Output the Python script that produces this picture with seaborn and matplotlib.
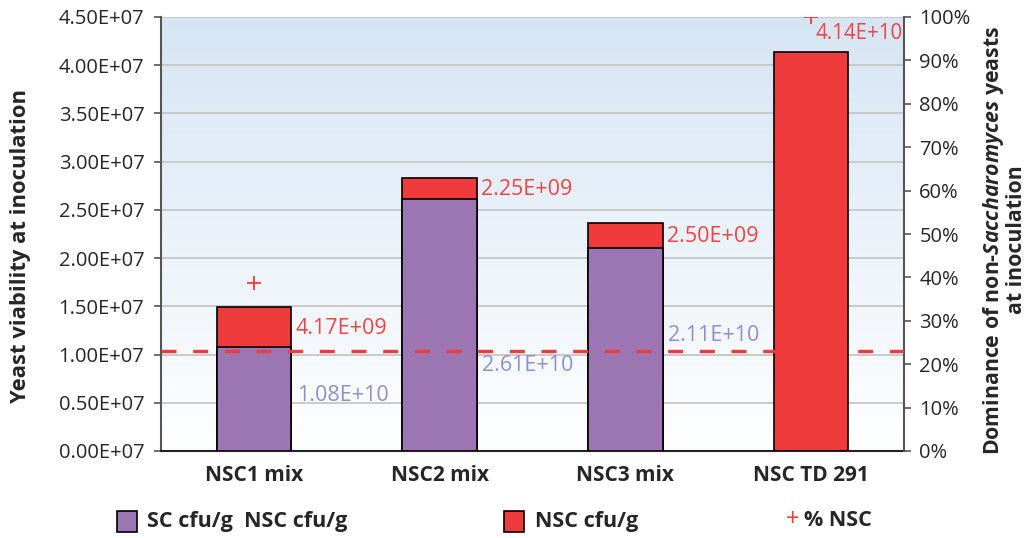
import numpy as np
import pandas as pd
import matplotlib
matplotlib.use("Agg")
import matplotlib.pyplot as plt
import seaborn as sns
from matplotlib.patches import Rectangle
from matplotlib.colors import LinearSegmentedColormap

# ---- data ----
categories = ["NSC1 mix", "NSC2 mix", "NSC3 mix", "NSC TD 291"]
sc_cfu = [1.08e10, 2.61e10, 2.11e10, 0.0]
nsc_cfu = [4.17e9, 2.25e9, 2.50e9, 4.14e10]
pct_nsc = [38.8, np.nan, np.nan, 100.0]
sc_labels = ["1.08E+10", "2.61E+10", "2.11E+10", ""]
nsc_labels = ["4.17E+09", "2.25E+09", "2.50E+09", "4.14E+10"]
left_tick_labels = ["0.00E+07", "0.50E+07", "1.00E+07", "1.50E+07", "2.00E+07",
                    "2.50E+07", "3.00E+07", "3.50E+07", "4.00E+07", "4.50E+07"]
right_tick_labels = ["0%", "10%", "20%", "30%", "40%", "50%",
                     "60%", "70%", "80%", "90%", "100%"]
reference_pct = 23.0

# ---- style ----
PURPLE = "#9b76b3"
RED = "#ef3b3b"
SC_TEXT = "#8f8fcc"
NSC_TEXT = "#ef4444"
SPINE = "#555555"

sns.set_theme(style="white")
plt.rcParams["font.family"] = ["Open Sans", "DejaVu Sans"]
plt.rcParams["mathtext.fontset"] = "custom"
plt.rcParams["mathtext.it"] = "Open Sans:italic:bold"
plt.rcParams["mathtext.rm"] = "Open Sans:bold"

W, H = 1031, 538
fig = plt.figure(figsize=(W / 100, H / 100), dpi=100)
fig.patch.set_facecolor("white")
rect = [161 / W, 1 - 451 / H, (904 - 161) / W, (451 - 17) / H]

# gradient plot background
bg = fig.add_axes(rect, zorder=-1)
grad = LinearSegmentedColormap.from_list("bg", ["#ffffff", "#d6e5f4"])
bg.imshow(np.linspace(0, 1, 256).reshape(-1, 1), cmap=grad, origin="lower",
          aspect="auto", extent=[0, 1, 0, 1])
bg.axis("off")

ax = fig.add_axes(rect)
ax.patch.set_alpha(0)

df = pd.DataFrame({"category": categories, "sc": sc_cfu, "nsc": nsc_cfu})
df["total"] = df["sc"] + df["nsc"]

# stacked bars: full height in red, SC share in purple on top
sns.barplot(data=df, x="category", y="total", color=RED, saturation=1,
            width=0.4, edgecolor="black", linewidth=1.2, ax=ax, zorder=3)
sns.barplot(data=df, x="category", y="sc", color=PURPLE, saturation=1,
            width=0.4, edgecolor="black", linewidth=1.2, ax=ax, zorder=3)

ymax = 4.5e10
ax.set_ylim(0, ymax)
ax.set_xlim(-0.5, len(categories) - 0.5)
ticks = np.linspace(0, ymax, len(left_tick_labels))
ax.set_yticks(ticks)
ax.set_yticklabels(left_tick_labels)
ax.yaxis.grid(True, color="#c6c6c6", linewidth=1.3)
ax.set_axisbelow(True)
ax.set_xlabel("")
ax.set_ylabel("")
for s in ("top", "right"):
    ax.spines[s].set_visible(False)
ax.spines["left"].set_color(SPINE)
ax.spines["left"].set_linewidth(1.5)
ax.spines["bottom"].set_color("#222222")
ax.spines["bottom"].set_linewidth(1.5)
ax.tick_params(axis="y", direction="out", length=5, width=1.2, color=SPINE,
               labelsize=14.5, pad=7, left=True)
ax.tick_params(axis="x", length=0, pad=10)
for lab in ax.get_xticklabels():
    lab.set_fontweight("bold")
    lab.set_fontsize(15)

# percentage axis
ax2 = ax.twinx()
ax2.set_ylim(0, 100)
ax2.set_yticks(np.linspace(0, 100, len(right_tick_labels)))
ax2.set_yticklabels(right_tick_labels)
for s in ("top", "left", "bottom"):
    ax2.spines[s].set_visible(False)
ax2.spines["right"].set_color(SPINE)
ax2.spines["right"].set_linewidth(1.5)
ax2.tick_params(axis="y", direction="out", length=5, width=1.2, color=SPINE,
                labelsize=14.5, pad=6, right=True)
ax2.grid(False)

ax2.axhline(reference_pct, color=RED, linewidth=2.4, linestyle=(0, (4.5, 5)),
            zorder=4)
sns.scatterplot(x=np.arange(len(categories)), y=pct_nsc, marker="+",
                color=RED, s=110, linewidth=1.3, ax=ax2, zorder=6, legend=False)
ax2.set_xlim(-0.5, len(categories) - 0.5)

# value labels (on the top axes so they sit above the dashed line)
sc_label_y = [0.575e10, 0.89e10, 1.2e10]
to_ax2 = lambda v: v / ymax * 100
for i, (sc, nsc) in enumerate(zip(sc_cfu, nsc_cfu)):
    if sc > 0:
        ax2.annotate(nsc_labels[i], (i + 0.2, to_ax2(sc + nsc / 2)),
                     xytext=(3, -1), textcoords="offset points", color=NSC_TEXT,
                     fontsize=15.5, va="center", ha="left", zorder=7)
        ax2.annotate(sc_labels[i], (i + 0.2, to_ax2(sc_label_y[i])),
                     xytext=(4, 0), textcoords="offset points", color=SC_TEXT,
                     fontsize=15.5, va="center", ha="left", zorder=7)
    else:
        ax2.annotate(nsc_labels[i], (i, to_ax2(nsc)), xytext=(3, 13),
                     textcoords="offset points", color=NSC_TEXT, fontsize=14.8,
                     va="center", ha="left", zorder=7)

# axis titles
fig.text(21 / W, 1 - 246 / H, "Yeast viability at inoculation", rotation=90,
         fontsize=15.8, fontweight="bold", ha="center", va="center")
fig.text(1004 / W, 1 - 240 / H,
         "Dominance of non-$\\mathit{Saccharomyces}$ yeasts\nat inoculation",
         rotation=90, fontsize=15.3, fontweight="bold", ha="center",
         va="center", multialignment="center", linespacing=1.05)

# legend row
def legend_box(x0, color):
    fig.add_artist(Rectangle((x0 / W, 1 - 532 / H), 20 / W, 21 / H,
                             transform=fig.transFigure, facecolor=color,
                             edgecolor="black", linewidth=1.2))

legend_box(117, PURPLE)
fig.text(147 / W, 1 - 521 / H, "SC cfu/g  NSC cfu/g", fontsize=15.5,
         fontweight="bold", va="center", ha="left")
legend_box(504, RED)
fig.text(535 / W, 1 - 521 / H, "NSC cfu/g", fontsize=15.5,
         fontweight="bold", va="center", ha="left")
fig.text(786 / W, 1 - 520 / H, "+", fontsize=17, color=RED,
         va="center", ha="left")
fig.text(804 / W, 1 - 521 / H, "% NSC", fontsize=15.5,
         fontweight="bold", va="center", ha="left")

fig.savefig("out.png", dpi=100)
